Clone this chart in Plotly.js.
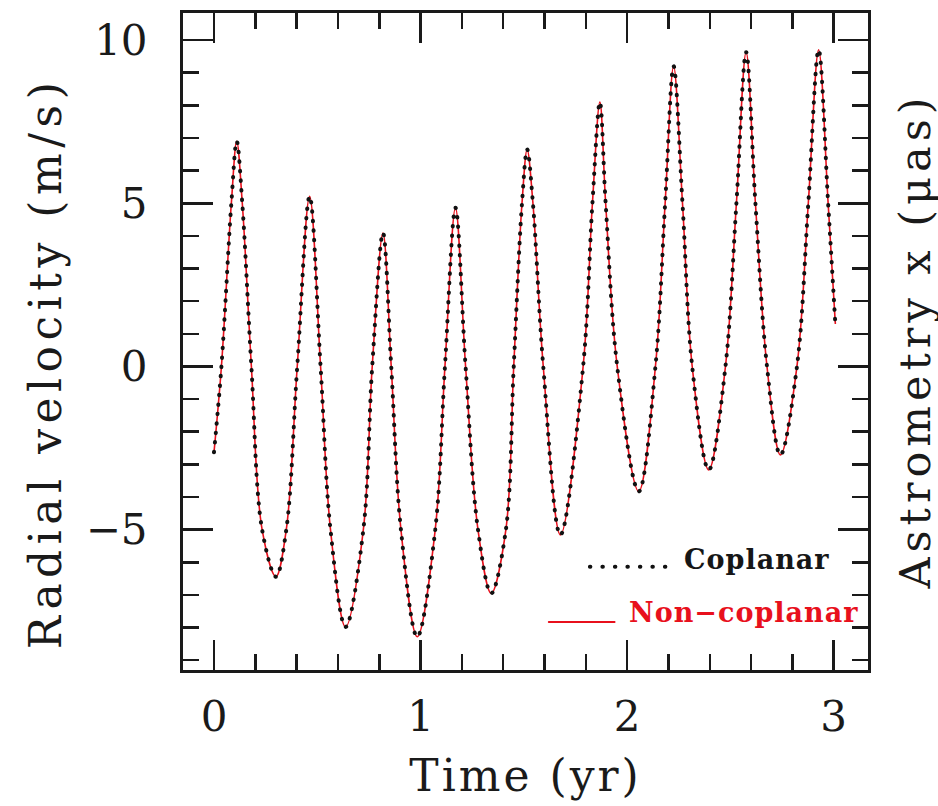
<!DOCTYPE html>
<html>
<head>
<meta charset="utf-8">
<script src="https://cdn.plot.ly/plotly-3.0.1.min.js"></script>
<style>
  body { margin: 0; background: #fff; }
  #plot { width: 938px; height: 806px; }
  #plot .xtitle { letter-spacing: 3px; }
  #plot .annotation[data-index="0"] text { letter-spacing: 5px; }
  #plot .annotation[data-index="1"] text { letter-spacing: 5.5px; }
  #plot .annotation[data-index="2"] text, #plot .annotation[data-index="3"] text { letter-spacing: 1px; }
  #plot .scatterlayer .trace:nth-child(2) path.js-line { stroke-linecap: round; }
  #plot .shapelayer path { stroke-linecap: round; }
</style>
</head>
<body>
<div id="plot"></div>
<script>
// Time (yr) sampled at read-off points of the curve
const timeYr = [0.000,0.036,0.084,0.110,0.137,0.181,0.233,0.300,0.350,0.403,0.463,0.516,0.564,0.637,0.723,0.766,0.818,0.858,0.905,0.984,1.071,1.118,1.169,1.218,1.278,1.342,1.413,1.451,1.491,1.516,1.544,1.594,1.677,1.787,1.832,1.868,1.896,1.952,2.056,2.137,2.184,2.225,2.268,2.315,2.395,2.476,2.529,2.576,2.621,2.677,2.742,2.822,2.877,2.927,2.973,3.008];
// Radial velocity (m/s), coplanar configuration
const rvCoplanar = [-2.63,0,5,6.9,5,0,-5,-6.44,-5,0,5.21,0,-5,-7.98,-5,0,4.09,0,-5,-8.28,-5,0,4.86,0,-5,-6.95,-5,0,5,6.65,5,0,-5.16,0,5,8.1,5,0,-3.83,0,5,9.2,5,0,-3.17,0,5,9.63,5,0,-2.71,0,5,9.7,5,1.3];
// Radial velocity (m/s), non-coplanar configuration (indistinguishable at this scale)
const rvNonCoplanar = [-2.63,0,5,6.9,5,0,-5,-6.44,-5,0,5.21,0,-5,-7.98,-5,0,4.09,0,-5,-8.28,-5,0,4.86,0,-5,-6.95,-5,0,5,6.65,5,0,-5.16,0,5,8.1,5,0,-3.83,0,5,9.2,5,0,-3.17,0,5,9.63,5,0,-2.71,0,5,9.7,5,1.3];
const seriesNames = ["Coplanar", "Non\u2212coplanar"];
const xTickVals = [0, 1, 2, 3];
const xTickText = ["0", "1", "2", "3"];
const yTickVals = [-5, 0, 5, 10];
const yTickText = ["\u22125", "0", "5", "10"];

const FONT = "DejaVu Serif, Liberation Serif, serif";
const INK = "#1a1a1a";
const RED = "#e8101c";

const traces = [
  {
    x: timeYr, y: rvNonCoplanar, mode: "lines", name: seriesNames[1],
    line: { color: RED, width: 1.6, shape: "spline", smoothing: 1 },
    showlegend: false, hoverinfo: "skip"
  },
  {
    x: timeYr, y: rvCoplanar, mode: "lines", name: seriesNames[0],
    line: { color: "#111", width: 4, dash: "0.5px,9px", shape: "spline", smoothing: 1 },
    showlegend: false, hoverinfo: "skip"
  }
];

const axisCommon = {
  showline: true, linecolor: INK, linewidth: 3, mirror: "ticks",
  ticks: "inside", tickcolor: INK, tickwidth: 2.5, ticklen: 30,
  showgrid: false, zeroline: false,
  tickfont: { family: FONT, size: 42, color: INK }
};

const layout = {
  width: 938, height: 806,
  margin: { l: 183, r: 70, t: 13, b: 136 },
  paper_bgcolor: "#fff", plot_bgcolor: "#fff",
  showlegend: false,
  xaxis: Object.assign({}, axisCommon, {
    range: [-0.15, 3.166],
    tickmode: "array", tickvals: xTickVals, ticktext: xTickText,
    minor: { dtick: 0.2, tick0: 0, ticks: "inside", ticklen: 16, tickwidth: 2.5, tickcolor: INK, showgrid: false },
    ticklabelstandoff: 8,
    title: { text: "Time (yr)", font: { family: FONT, size: 44, color: INK }, standoff: 20 }
  }),
  yaxis: Object.assign({}, axisCommon, {
    range: [-9.3, 10.83],
    tickmode: "array", tickvals: yTickVals, ticktext: yTickText,
    minor: { dtick: 1, tick0: 0, ticks: "inside", ticklen: 16, tickwidth: 2.5, tickcolor: INK, showgrid: false },
    ticklabelstandoff: 24
  }),
  annotations: [
    { xref: "paper", yref: "paper", x: 1.0, y: 0.5, xshift: 46, textangle: -90,
      text: "Astrometry x (\u03bcas)", showarrow: false, xanchor: "center", yanchor: "middle",
      font: { family: FONT, size: 43, color: INK } },
    { xref: "paper", yref: "paper", x: 0, y: 0.5, xshift: -138, yshift: -22, textangle: -90,
      text: "Radial velocity (m/s)", showarrow: false, xanchor: "center", yanchor: "middle",
      font: { family: FONT, size: 44, color: INK } },
    { xref: "paper", yref: "paper", x: 0.838, y: 0.168, xanchor: "center", yanchor: "middle",
      text: seriesNames[0], showarrow: false, font: { family: FONT, size: 27, weight: "bold", color: "#161616" } },
    { xref: "paper", yref: "paper", x: 0.819, y: 0.088, xanchor: "center", yanchor: "middle",
      text: seriesNames[1], showarrow: false, font: { family: FONT, size: 27, weight: "bold", color: RED } }
  ],
  shapes: [
    { type: "line", xref: "paper", yref: "paper", x0: 0.594, x1: 0.705, y0: 0.157, y1: 0.157,
      line: { color: "#111", width: 4, dash: "0.5px,12px" } },
    { type: "line", xref: "paper", yref: "paper", x0: 0.534, x1: 0.63, y0: 0.073, y1: 0.073,
      line: { color: RED, width: 2 } }
  ]
};

Plotly.newPlot("plot", traces, layout, { staticPlot: true, displayModeBar: false });
</script>
</body>
</html>
